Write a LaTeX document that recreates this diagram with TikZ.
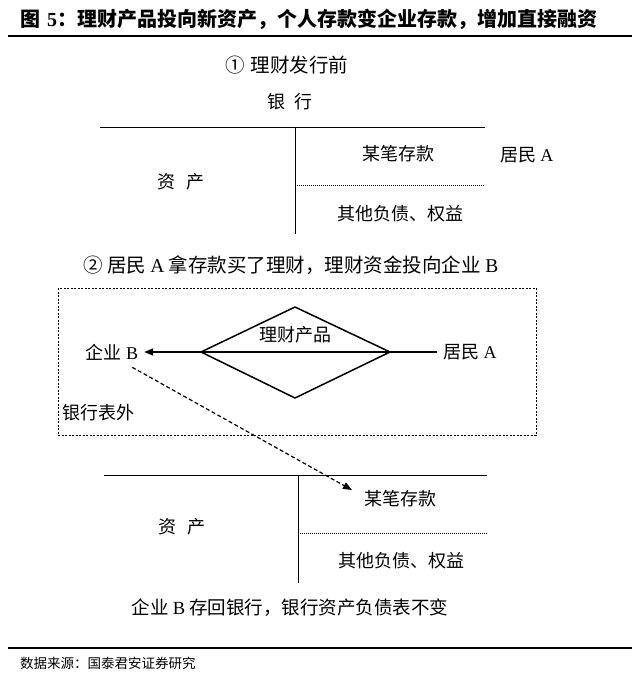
\documentclass[tikz,border=0pt]{standalone}
\usepackage{fontspec}
\setmainfont{Liberation Serif}
\newfontfamily\cjk{Noto Sans CJK SC}
\usetikzlibrary{arrows.meta}
\begin{document}
\begin{tikzpicture}[x=1pt,y=-1pt,
  txt/.style={font=\fontsize{18}{21}\selectfont\cjk, inner sep=0pt},
  rule/.style={line width=1.6pt},
  tline/.style={line width=0.9pt},
  dotl/.style={line width=0.6pt, dash pattern=on 1.2pt off 0.8pt},
  dbox/.style={line width=0.8pt, dash pattern=on 2pt off 1.5pt},
  dia/.style={line width=1.5pt}]
\useasboundingbox (0,0) rectangle (640,687);
% title
\node[anchor=west, inner sep=0pt, font=\fontsize{20}{24}\selectfont\bfseries] (title) at (20,19) {{\cjk 图}\hspace{0.35em}5{\cjk ：理财产品投向新资产，个人存款变企业存款，增加直接融资}};
\coordinate (r1a) at (8,36); \coordinate (r1b) at (632,36);
\draw[rule] (r1a) -- (r1b);
% part 1
\node[txt, font=\fontsize{19.5}{23}\selectfont\cjk] (h1) at (287,65) {①\hspace{0.3em}理财发行前};
\node[txt] (bank) at (290,102) {银\hspace{0.5em}行};
\coordinate (h1l) at (100,127); \coordinate (h1r) at (485,127);
\coordinate (v1t) at (295,127); \coordinate (v1b) at (295,234);
\coordinate (d1l) at (295,185); \coordinate (d1r) at (485,185);
\draw[tline] (h1l) -- (h1r);
\draw[tline] (v1t) -- (v1b);
\draw[dotl] (d1l) -- (d1r);
\node[txt] (dep1) at (398,154) {某笔存款};
\node[txt] (resA1) at (527,155) {居民\hspace{0.2em}{\rmfamily A}};
\node[txt] (asset1) at (181,182) {资\hspace{0.6em}产};
\node[txt] (oth1) at (400,214) {其他负债、权益};
% part 2
\node[txt, font=\fontsize{19.5}{23}\selectfont\cjk] (h2) at (291,265) {②\hspace{0.2em}居民 {\rmfamily A} 拿存款买了理财，理财资金投向企业 {\rmfamily B}};
\coordinate (bx1) at (58,288); \coordinate (bx2) at (536,435);
\draw[dbox] (bx1) rectangle (bx2);
\node[txt] (entB) at (112,352) {企业 {\rmfamily B}};
\node[txt] (resA2) at (470,352) {居民 {\rmfamily A}};
\node[txt] (offbs) at (98,413) {银行表外};
\coordinate (dl) at (201,352); \coordinate (dr) at (390,352);
\coordinate (dt) at (295,307); \coordinate (db) at (295,398);
\draw[dia, line join=miter] (dl) -- (dt) -- (dr) -- (db) -- cycle;
\node[txt] (prod) at (295,335) {理财产品};
\draw[dia, -{Triangle[length=9pt,width=7pt]}] (resA2.west) ++(-6,0) -- ([xshift=6pt]entB.east);
\coordinate (arrEnd) at (352,490);
\draw[line width=1.2pt, dash pattern=on 4pt off 2.5pt, -{Triangle[length=9pt,width=7pt]}] ([xshift=-6pt,yshift=-7pt]entB.south east) -- (arrEnd);
% part 3
\coordinate (h2l) at (104,475); \coordinate (h2r) at (487,475);
\coordinate (v2t) at (298,475); \coordinate (v2b) at (298,583);
\coordinate (d2l) at (298,533); \coordinate (d2r) at (487,533);
\draw[tline] (h2l) -- (h2r);
\draw[tline] (v2t) -- (v2b);
\draw[dotl] (d2l) -- (d2r);
\node[txt] (dep2) at (400,499) {某笔存款};
\node[txt] (asset2) at (182,527) {资\hspace{0.6em}产};
\node[txt] (oth2) at (401,561) {其他负债、权益};
\node[txt, font=\fontsize{18.5}{21}\selectfont\cjk] (concl) at (290,608) {企业 {\rmfamily B} 存回银行，银行资产负债表不变};
% footer
\coordinate (r2a) at (8,648); \coordinate (r2b) at (632,648);
\draw[rule] (r2a) -- (r2b);
\node[anchor=west, inner sep=0pt, font=\fontsize{13.5}{16}\selectfont\cjk] (src) at (20,663) {数据来源：国泰君安证券研究};
\end{tikzpicture}
\end{document}
